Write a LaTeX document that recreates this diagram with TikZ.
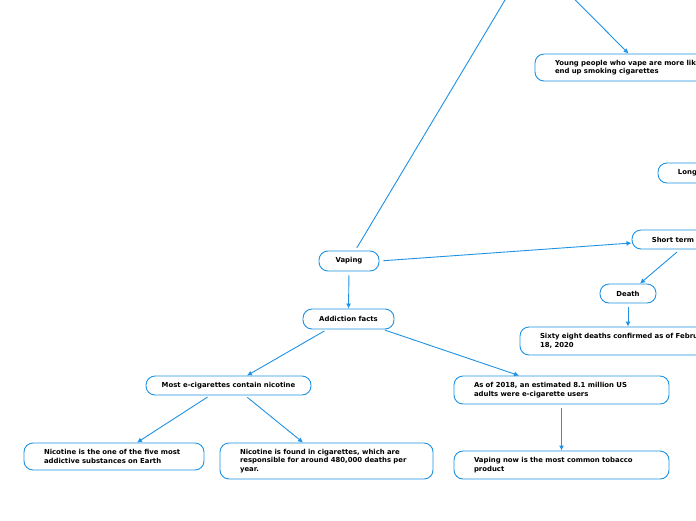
\documentclass[tikz,border=0pt]{standalone}
\usepackage{fontspec}
\newfontfamily\dv{DejaVu Sans}
\usetikzlibrary{arrows.meta,calc}
\definecolor{blu}{RGB}{30,146,228}
\tikzset{
  box/.style={draw=blu, line width=0.9pt, rounded corners=9pt, fill=white,
    font=\dv\bfseries\fontsize{6.9}{8.4}\selectfont, inner ysep=0pt, inner xsep=0pt, align=center},
  mbox/.style={box, align=left},
  conn/.style={draw=blu, line width=0.9pt, -{Latex[length=5pt,width=5pt]}},
  plain/.style={draw=blu, line width=0.9pt}
}
\begin{document}
\begin{tikzpicture}[x=1pt,y=-1pt]
\useasboundingbox (0,0) rectangle (696,520);
\clip (0,0) rectangle (696,520);
\fill[white] (0,0) rectangle (696,520);

\coordinate (vtop) at (517,-20);
\coordinate (ytop) at (555.4,-20);

\node[box, minimum width=60pt, minimum height=20pt] (vaping) at (349,261) {Vaping};
\node[box, minimum width=91pt, minimum height=20pt] (addiction) at (348.5,319) {Addiction facts};
\node[box, minimum width=165pt, minimum height=19pt] (most) at (228.5,385.5) {Most e-cigarettes contain nicotine};
\node[mbox, minimum width=180pt, minimum height=27pt, text width=140pt] (nicfive) at (114,456.5) {Nicotine is the one of the five most\\addictive substances on Earth};
\node[mbox, minimum width=213pt, minimum height=36pt, text width=173pt] (nicfound) at (326.5,461) {Nicotine is found in cigarettes, which are\\responsible for around 480,000 deaths per\\year.};
\node[mbox, minimum width=215pt, minimum height=28pt, text width=175pt] (asof) at (561.5,390) {As of 2018, an estimated 8.1 million US\\adults were e-cigarette users};
\node[mbox, minimum width=215pt, minimum height=28pt, text width=175pt] (vapnow) at (561.5,465) {Vaping now is the most common tobacco\\product};
\node[mbox, minimum width=230pt, minimum height=27pt, text width=190pt] (young) at (650,67.5) {Young people who vape are more likely to\\end up smoking cigarettes};
\node[box, minimum width=136pt, minimum height=20pt] (long) at (726,173) {Long term health effects};
\node[box, minimum width=138pt, minimum height=19pt] (short) at (701,239.5) {Short term health effects};
\node[box, minimum width=56pt, minimum height=19pt] (death) at (628,293.5) {Death};
\node[mbox, minimum width=230pt, minimum height=28pt, text width=190pt] (sixty) at (635,341) {Sixty eight deaths confirmed as of February\\18, 2020};

\draw[plain, shorten <=3pt] (vaping) -- (vtop);
\draw[conn] (ytop) -- ([xshift=94pt]young.north west);
\draw[conn, shorten <=4pt] (vaping.east) -- ([yshift=-3.5pt]short.west);
\draw[conn, shorten <=4pt] (vaping.south) -- (addiction.north);
\draw[conn, shorten <=3pt] ([xshift=-21.5pt]addiction.south) -- ([xshift=18.5pt]most.north);
\draw[conn, shorten <=2pt] ([xshift=34.5pt]addiction.south) -- ([xshift=-42.5pt]asof.north);
\draw[conn, shorten <=3pt] ([xshift=-18.5pt]most.south) -- ([xshift=23pt]nicfive.north);
\draw[conn, shorten <=3pt] ([xshift=16.5pt]most.south) -- ([xshift=-23.5pt]nicfound.north);
\draw[conn, shorten <=4pt] (asof.south) -- (vapnow.north);
\draw[conn, shorten <=4pt] ([xshift=-21pt]short.south) -- ([xshift=12pt]death.north);
\draw[conn, shorten <=4pt] (death.south) -- ([xshift=-7pt]sixty.north);
\end{tikzpicture}
\end{document}
